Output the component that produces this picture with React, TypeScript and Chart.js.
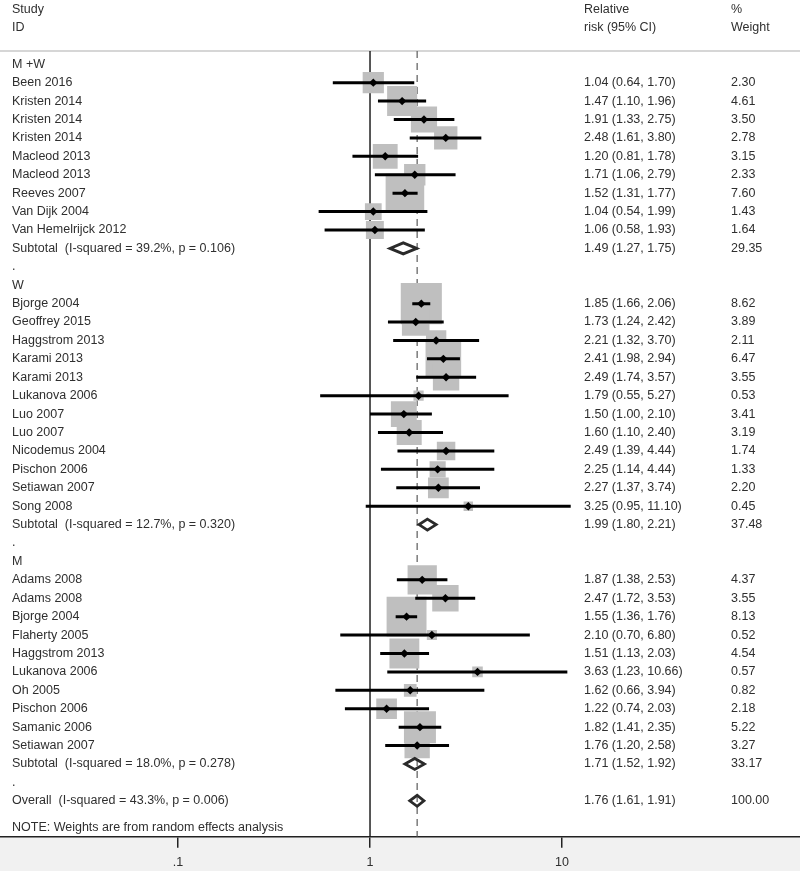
import { useEffect, useRef } from "react";
import { Chart, registerables } from "chart.js";

Chart.register(...registerables);

// ---------- data ----------
const rowLabels = [
  "M +W",
  "Been 2016",
  "Kristen 2014",
  "Kristen 2014",
  "Kristen 2014",
  "Macleod 2013",
  "Macleod 2013",
  "Reeves 2007",
  "Van Dijk 2004",
  "Van Hemelrijck 2012",
  "Subtotal  (I-squared = 39.2%, p = 0.106)",
  ".",
  "W",
  "Bjorge 2004",
  "Geoffrey 2015",
  "Haggstrom 2013",
  "Karami 2013",
  "Karami 2013",
  "Lukanova 2006",
  "Luo 2007",
  "Luo 2007",
  "Nicodemus 2004",
  "Pischon 2006",
  "Setiawan 2007",
  "Song 2008",
  "Subtotal  (I-squared = 12.7%, p = 0.320)",
  ".",
  "M",
  "Adams 2008",
  "Adams 2008",
  "Bjorge 2004",
  "Flaherty 2005",
  "Haggstrom 2013",
  "Lukanova 2006",
  "Oh 2005",
  "Pischon 2006",
  "Samanic 2006",
  "Setiawan 2007",
  "Subtotal  (I-squared = 18.0%, p = 0.278)",
  ".",
  "Overall  (I-squared = 43.3%, p = 0.006)",
];

const rowKinds = [
  "group",
  "study", "study", "study", "study", "study", "study", "study", "study", "study",
  "pooled",
  "blank",
  "group",
  "study", "study", "study", "study", "study", "study", "study", "study", "study", "study", "study", "study",
  "pooled",
  "blank",
  "group",
  "study", "study", "study", "study", "study", "study", "study", "study", "study", "study",
  "pooled",
  "blank",
  "pooled",
];

const estimates = [
  null,
  1.04, 1.47, 1.91, 2.48, 1.2, 1.71, 1.52, 1.04, 1.06,
  1.49,
  null,
  null,
  1.85, 1.73, 2.21, 2.41, 2.49, 1.79, 1.5, 1.6, 2.49, 2.25, 2.27, 3.25,
  1.99,
  null,
  null,
  1.87, 2.47, 1.55, 2.1, 1.51, 3.63, 1.62, 1.22, 1.82, 1.76,
  1.71,
  null,
  1.76,
];

const lowerCI = [
  null,
  0.64, 1.1, 1.33, 1.61, 0.81, 1.06, 1.31, 0.54, 0.58,
  1.27,
  null,
  null,
  1.66, 1.24, 1.32, 1.98, 1.74, 0.55, 1.0, 1.1, 1.39, 1.14, 1.37, 0.95,
  1.8,
  null,
  null,
  1.38, 1.72, 1.36, 0.7, 1.13, 1.23, 0.66, 0.74, 1.41, 1.2,
  1.52,
  null,
  1.61,
];

const upperCI = [
  null,
  1.7, 1.96, 2.75, 3.8, 1.78, 2.79, 1.77, 1.99, 1.93,
  1.75,
  null,
  null,
  2.06, 2.42, 3.7, 2.94, 3.57, 5.27, 2.1, 2.4, 4.44, 4.44, 3.74, 11.1,
  2.21,
  null,
  null,
  2.53, 3.53, 1.76, 6.8, 2.03, 10.66, 3.94, 2.03, 2.35, 2.58,
  1.92,
  null,
  1.91,
];

const weights = [
  null,
  2.3, 4.61, 3.5, 2.78, 3.15, 2.33, 7.6, 1.43, 1.64,
  29.35,
  null,
  null,
  8.62, 3.89, 2.11, 6.47, 3.55, 0.53, 3.41, 3.19, 1.74, 1.33, 2.2, 0.45,
  37.48,
  null,
  null,
  4.37, 3.55, 8.13, 0.52, 4.54, 0.57, 0.82, 2.18, 5.22, 3.27,
  33.17,
  null,
  100.0,
];

const overallEstimate = 1.76;
const xTickValues = [0.1, 1, 10];
const xTickLabels = [".1", "1", "10"];
const headerStudy = ["Study", "ID"];
const headerRR = ["Relative", "risk (95% CI)"];
const headerWeight = ["%", "Weight"];
const noteText = "NOTE: Weights are from random effects analysis";

// ---------- layout constants ----------
const W = 800;
const H = 871;
const X_MIN = 0.011825;
const X_MAX = 173.6;
const Y_MIN = -0.72;
const Y_MAX = 41.95;
const NOTE_ROW = 41.45;
const TOP_PAD = 51;
const AXIS_H = 34.3;
const COL_LABEL = 12;
const COL_RR = 584;
const COL_W = 731;
const SQUARE_K = 14;
const DIAMOND_H = 0.3;
const FONT = "'Liberation Sans', Arial, Helvetica, sans-serif";
const FONT_SIZE = 12.5;
const TEXT_COLOR = "#2f2f2f";

export default function App() {
  const ref = useRef<HTMLCanvasElement | null>(null);

  useEffect(() => {
    document.body.style.margin = "0";
    const canvas = ref.current;
    if (!canvas) return;

    const studyIdx: number[] = [];
    const pooledIdx: number[] = [];
    rowKinds.forEach((k, i) => {
      if (k === "study") studyIdx.push(i);
      if (k === "pooled") pooledIdx.push(i);
    });

    const datasets: any[] = [];

    // black point markers (top)
    datasets.push({
      data: studyIdx.map((i) => ({ x: estimates[i], y: i })),
      pointStyle: "rectRot",
      pointRadius: 4.2,
      pointHoverRadius: 4.2,
      backgroundColor: "#000",
      borderWidth: 0,
      order: 0,
    });

    // CI lines
    studyIdx.forEach((i) => {
      datasets.push({
        showLine: true,
        data: [
          { x: lowerCI[i], y: i },
          { x: upperCI[i], y: i },
        ],
        borderColor: "#000",
        borderWidth: 3,
        borderCapStyle: "butt",
        pointRadius: 0,
        pointHoverRadius: 0,
        order: 1,
      });
    });

    // pooled diamonds
    pooledIdx.forEach((i) => {
      const e = estimates[i] as number;
      const lo = lowerCI[i] as number;
      const hi = upperCI[i] as number;
      datasets.push({
        showLine: true,
        data: [
          { x: e, y: i - DIAMOND_H },
          { x: hi, y: i },
          { x: e, y: i + DIAMOND_H },
          { x: lo, y: i },
          { x: e, y: i - DIAMOND_H },
          { x: hi, y: i },
        ],
        borderColor: "#2a2a2a",
        borderWidth: 2.8,
        borderJoinStyle: "miter",
        fill: false,
        pointRadius: 0,
        pointHoverRadius: 0,
        order: 2,
      });
    });

    // weight squares
    datasets.push({
      data: studyIdx.map((i) => ({ x: estimates[i], y: i })),
      pointStyle: "rect",
      pointRadius: studyIdx.map((i) => (SQUARE_K * Math.sqrt(weights[i] as number)) / Math.SQRT2),
      pointHoverRadius: studyIdx.map((i) => (SQUARE_K * Math.sqrt(weights[i] as number)) / Math.SQRT2),
      backgroundColor: "#bfbfbf",
      borderWidth: 0,
      order: 3,
    });

    // overall dashed line
    datasets.push({
      showLine: true,
      data: [
        { x: overallEstimate, y: Y_MIN },
        { x: overallEstimate, y: Y_MAX },
      ],
      borderColor: "#666",
      borderWidth: 1.3,
      borderDash: [7, 5],
      pointRadius: 0,
      pointHoverRadius: 0,
      order: 4,
    });

    // null line
    datasets.push({
      showLine: true,
      data: [
        { x: 1, y: Y_MIN },
        { x: 1, y: Y_MAX },
      ],
      borderColor: "#111",
      borderWidth: 1.4,
      pointRadius: 0,
      pointHoverRadius: 0,
      order: 5,
    });

    const decorPlugin = {
      id: "forestDecor",
      beforeDraw(chart: any) {
        const { ctx, chartArea } = chart;
        ctx.save();
        ctx.fillStyle = "#ffffff";
        ctx.fillRect(0, 0, chart.width, chart.height);
        ctx.fillStyle = "#f1f1f1";
        ctx.fillRect(0, chartArea.bottom, chart.width, chart.height - chartArea.bottom);
        ctx.strokeStyle = "#c9c9c9";
        ctx.lineWidth = 1.5;
        ctx.beginPath();
        ctx.moveTo(0, chartArea.top);
        ctx.lineTo(chart.width, chartArea.top);
        ctx.stroke();
        ctx.restore();
      },
      afterDraw(chart: any) {
        const { ctx } = chart;
        const yScale = chart.scales.y;
        ctx.save();
        ctx.font = `${FONT_SIZE}px ${FONT}`;
        ctx.fillStyle = TEXT_COLOR;
        ctx.textBaseline = "middle";
        ctx.textAlign = "left";
        const headerY = [10, 28];
        headerY.forEach((hy, k) => {
          ctx.fillText(headerStudy[k], COL_LABEL, hy);
          ctx.fillText(headerRR[k], COL_RR, hy);
          ctx.fillText(headerWeight[k], COL_W, hy);
        });
        rowLabels.forEach((label, i) => {
          const y = yScale.getPixelForValue(i);
          ctx.fillText(label, COL_LABEL, y);
          const e = estimates[i];
          if (e !== null) {
            const lo = lowerCI[i] as number;
            const hi = upperCI[i] as number;
            ctx.fillText(`${e.toFixed(2)} (${lo.toFixed(2)}, ${hi.toFixed(2)})`, COL_RR, y);
            ctx.fillText((weights[i] as number).toFixed(2), COL_W, y);
          }
        });
        ctx.fillText(noteText, COL_LABEL, yScale.getPixelForValue(NOTE_ROW));
        ctx.restore();
      },
    };

    const chart = new Chart(canvas, {
      type: "scatter",
      data: { datasets },
      options: {
        animation: false,
        responsive: true,
        maintainAspectRatio: false,
        events: [],
        layout: { autoPadding: false, padding: { top: TOP_PAD, left: 0, right: 0, bottom: 0 } },
        plugins: {
          legend: { display: false },
          tooltip: { enabled: false },
        },
        scales: {
          x: {
            type: "logarithmic",
            position: "bottom",
            min: X_MIN,
            max: X_MAX,
            bounds: "data",
            afterBuildTicks: (scale: any) => {
              scale.ticks = xTickValues.map((v) => ({ value: v }));
            },
            afterFit: (scale: any) => {
              scale.height = AXIS_H;
              scale.paddingLeft = 0;
              scale.paddingRight = 0;
            },
            ticks: {
              autoSkip: false,
              maxRotation: 0,
              padding: 7,
              color: TEXT_COLOR,
              font: { family: FONT, size: FONT_SIZE },
              callback: (_v: any, index: number) => xTickLabels[index],
            },
            grid: {
              display: true,
              drawOnChartArea: false,
              drawTicks: true,
              tickLength: 11,
              color: "#222",
              lineWidth: 1.5,
            },
            border: { display: true, color: "#222", width: 1.5 },
          },
          y: {
            type: "linear",
            reverse: true,
            min: Y_MIN,
            max: Y_MAX,
            display: false,
          },
        },
      } as any,
      plugins: [decorPlugin],
    });

    return () => chart.destroy();
  }, []);

  return (
    <div style={{ position: "absolute", left: 0, top: 0, width: W, height: H }}>
      <canvas ref={ref} />
    </div>
  );
}
